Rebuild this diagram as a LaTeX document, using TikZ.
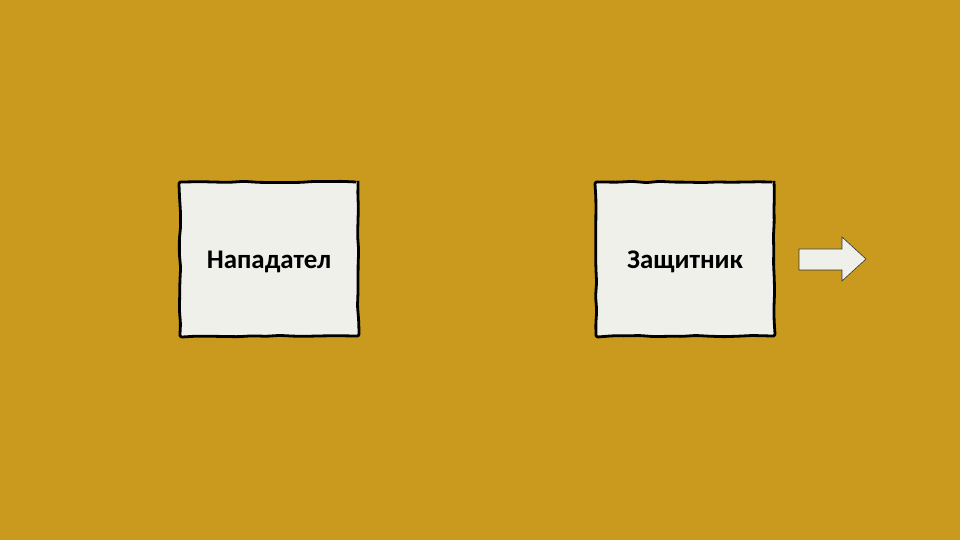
\documentclass[tikz,border=0pt]{standalone}
\usepackage{fontspec}
\setmainfont{Carlito}
\usetikzlibrary{decorations.pathmorphing}
\definecolor{bgc}{HTML}{C99A1E}
\definecolor{paper}{HTML}{F0F0EB}
\begin{document}
\begin{tikzpicture}[x=1bp,y=-1bp,
  card/.style={draw=black, fill=paper, line width=2.8bp, line join=round, minimum width=178bp, minimum height=154bp, inner sep=0pt,
    decorate, decoration={random steps, segment length=14bp, amplitude=0.7bp}, rounded corners=2bp},
  lbl/.style={font=\bfseries\fontsize{27}{32}\selectfont, text=black}]
\fill[bgc] (0,0) rectangle (960,540);
\useasboundingbox (0,0) rectangle (960,540);
\node[card] (att) at (269,259) {};
\node[card] (def) at (685,259) {};
\node[lbl] (attl) at (269,262) {Нападател};
\node[lbl] (defl) at (685,262) {Защитник};
\draw[fill=paper, draw=black!80, line width=0.6bp, line join=miter]
  (799,249) -- (842,249) -- (842,237) -- (866,259) -- (842,281) -- (842,270) -- (799,270) -- cycle;
\end{tikzpicture}
\end{document}
